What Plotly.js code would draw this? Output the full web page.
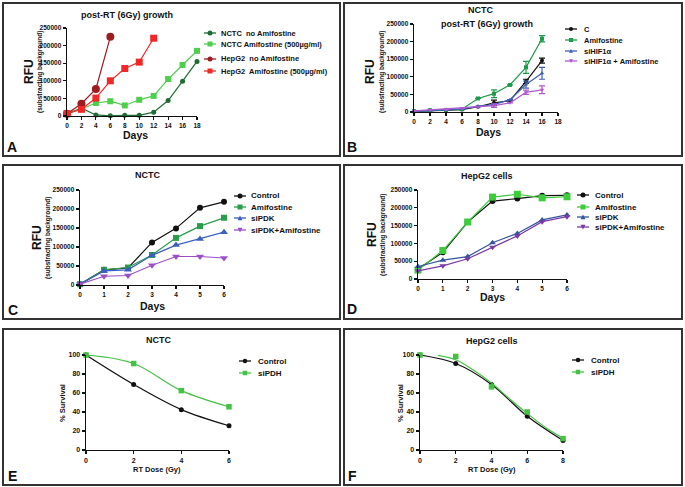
<!DOCTYPE html>
<html><head><meta charset="utf-8">
<script src="https://cdn.plot.ly/plotly-3.0.1.min.js"></script>
<style>html,body{margin:0;padding:0;background:#fff}#chart{width:685px;height:487px}</style>
</head><body><div id="chart"></div>
<script>
// ---------------- DATA ----------------
// Panel A
const daysA = [0,2,4,6,8,10,12,14,16,18];
const nctcNoAmifA = [6600,22000,3000,500,2000,2000,11000,44000,99000,155000];
const nctcAmifA   = [6600,20000,37000,42000,30000,46000,57000,105000,145000,185000];
const daysHepNoA  = [0,2,4,6];
const hepNoAmifA  = [6600,35000,77000,225000];
const daysHepAmA  = [0,2,4,6,8,10,12];
const hepAmifA    = [6600,19000,51000,100000,135000,153000,221000];
const namesA = ['NCTC  no Amifostine','NCTC Amifostine (500µg/ml)','HepG2  no Amifostine','HepG2  Amifostine (500µg/ml)'];

// Panel B
const daysB = [0,2,4,6,8,10,12,14,16];
const cB         = [2000,4000,5000,7000,15000,26000,32000,87000,146000];
const cErrB      = [null,null,null,null,null,8000,null,6000,7000];
const amifB      = [2000,5000,6000,8000,38500,52000,77000,127000,208000];
const amifErrB   = [null,null,null,null,null,11000,null,17000,9000];
const hifB       = [2000,5000,6000,9000,16000,21000,35000,78000,110000];
const hifErrB    = [null,null,null,null,null,null,null,10000,17000];
const hifAmifB   = [3000,6000,7000,10000,15000,18000,26000,56000,63000];
const hifAmifErrB= [null,null,null,null,null,5000,null,6000,11000];
const namesB = ['C','Amifostine','siHIF1α','siHIF1α + Amifostine'];

// Panel C
const daysC = [0,1,2,3,4,5,6];
const controlC  = [2000,40000,45000,112000,149000,203000,219000];
const amifC     = [2000,40000,46000,79000,124000,155000,177000];
const siPDKC    = [2000,37000,40000,78000,105000,121000,139000];
const siPDKAmC  = [2000,23000,25000,52000,75000,75000,71000];
const namesC = ['Control','Amifostine','siPDK','siPDK+Amifostine'];

// Panel D
const daysD = [0,1,2,3,4,5,6];
const controlD  = [28000,75000,160000,219000,226000,234000,235000];
const amifD     = [25000,80000,160000,230000,238000,228000,231000];
const siPDKD    = [35000,53000,63000,102000,128000,166000,180000];
const siPDKAmD  = [23000,37000,57000,89000,121000,161000,175000];
const namesD = ['Control','Amifostine','siPDK','siPDK+Amifostine'];

// Panel E
const doseE = [0,2,4,6];
const controlE = [100,69,42.5,25.5];
const siPDHE   = [100,91,62.5,45.5];
const namesEF = ['Control','siPDH'];

// Panel F
const doseF = [0,2,4,6,8];
const controlF = [100,91,69,35.5,10];
const siPDHF   = [100,98.5,66.5,40,12];
const fitDoseF = [1,2,3,4,5,6,7,8];
const siPDHFitF= [99.6,95,84,70.5,54,38.5,24,12.5];

// ---------------- HELPERS ----------------
const W = 685, H = 487;
const px = x => x / W, py = y => 1 - y / H;
const FONT = 'Liberation Sans, Arial, Helvetica, sans-serif';
const INK = '#111';

function xAx(l, r, range, dtick, anchor, fs) {
  return {domain:[px(l), px(r)], range, dtick, tick0:0, anchor, showgrid:false, zeroline:false,
    showline:true, linecolor:INK, linewidth:1.4, ticks:'outside', ticklen:3, tickwidth:1.2, tickcolor:INK,
    tickfont:{family:FONT, size:fs, color:INK, weight:'bold'}, fixedrange:true};
}
function yAx(t, b, range, dtick, anchor, fs) {
  return {domain:[py(b), py(t)], range, dtick, tick0:0, anchor, showgrid:false, zeroline:false,
    showline:true, linecolor:INK, linewidth:1.4, ticks:'outside', ticklen:3, tickwidth:1.2, tickcolor:INK,
    tickformat:'d', tickfont:{family:FONT, size:fs, color:INK, weight:'bold'}, fixedrange:true};
}

const traces = [];
function addSeries(xa, ya, x, y, color, symbol, size, err, shape) {
  const t = {x, y, xaxis:xa, yaxis:ya, type:'scatter', mode:'lines+markers', cliponaxis:false,
    line:{color, width:1.2, shape:shape || 'linear'}, marker:{color, symbol, size},
    showlegend:false, hoverinfo:'skip'};
  if (err) t.error_y = {type:'data', array:err, visible:true, color, thickness:1.2, width:3};
  traces.push(t);
}

const shapes = [], annotations = [];
function text(x, y, s, size, opts) {
  annotations.push(Object.assign({xref:'paper', yref:'paper', x:px(x), y:py(y), text:s, showarrow:false,
    xanchor:'center', yanchor:'middle', font:{family:FONT, size, color:INK}}, opts || {}));
}
function symbolShape(sym, cx, cy, s, color) {
  const h = s / 2;
  const base = {xref:'paper', yref:'paper', fillcolor:color, line:{width:0}};
  if (sym === 'circle') return Object.assign(base, {type:'circle', x0:px(cx-h), x1:px(cx+h), y0:py(cy+h), y1:py(cy-h)});
  if (sym === 'square') return Object.assign(base, {type:'rect', x0:px(cx-h), x1:px(cx+h), y0:py(cy+h), y1:py(cy-h)});
  if (sym === 'triangle-up') return Object.assign(base, {type:'path',
    path:`M ${px(cx-h)} ${py(cy+h*0.9)} L ${px(cx+h)} ${py(cy+h*0.9)} L ${px(cx)} ${py(cy-h)} Z`});
  return Object.assign(base, {type:'path',
    path:`M ${px(cx-h)} ${py(cy-h*0.9)} L ${px(cx+h)} ${py(cy-h*0.9)} L ${px(cx)} ${py(cy+h)} Z`});
}
function legend(mx, tx, ys, names, colors, syms, msize, fs) {
  names.forEach((n, i) => {
    shapes.push({type:'line', xref:'paper', yref:'paper', x0:px(mx-6), x1:px(mx+6), y0:py(ys[i]), y1:py(ys[i]),
      line:{color:colors[i], width:1.3}});
    shapes.push(symbolShape(syms[i], mx, ys[i], msize, colors[i]));
    text(tx, ys[i], '<b>' + n + '</b>', fs, {xanchor:'left'});
  });
}
function border(l, t, r, b) {
  shapes.push({type:'rect', xref:'paper', yref:'paper', x0:px(l), x1:px(r), y0:py(b), y1:py(t),
    line:{color:'#333', width:2}, fillcolor:'rgba(0,0,0,0)', layer:'below'});
}
function rfuTitle(x1, x2, yc) {
  text(x1, yc, '<b>RFU</b>', 12, {textangle:-90});
  text(x2, yc, '<b>(substracting background)</b>', 6.5, {textangle:-90});
}

// ---------------- PANEL A ----------------
const colA = ['#1f6b35','#4dce4d','#9e1b20','#f02828'];
const symA = ['circle','square','circle','square'];
addSeries('x','y', daysA, nctcNoAmifA, colA[0], 'circle', 5);
addSeries('x','y', daysA, nctcAmifA, colA[1], 'square', 6);
addSeries('x','y', daysHepNoA, hepNoAmifA, colA[2], 'circle', 8);
addSeries('x','y', daysHepAmA, hepAmifA, colA[3], 'square', 7);

// ---------------- PANEL B ----------------
const colB = [INK,'#1e9a4c','#4060b8','#b05ad0'];
const symB = ['circle','square','triangle-up','triangle-down'];
addSeries('x2','y2', daysB, cB, colB[0], 'circle', 4, cErrB);
addSeries('x2','y2', daysB, amifB, colB[1], 'square', 4, amifErrB);
addSeries('x2','y2', daysB, hifB, colB[2], 'triangle-up', 4, hifErrB);
addSeries('x2','y2', daysB, hifAmifB, colB[3], 'triangle-down', 4, hifAmifErrB);

// ---------------- PANEL C ----------------
const colC = [INK,'#2a9d4a','#3b5fc0','#9b50c8'];
const symC = ['circle','square','triangle-up','triangle-down'];
addSeries('x3','y3', daysC, controlC, colC[0], 'circle', 6);
addSeries('x3','y3', daysC, amifC, colC[1], 'square', 6);
addSeries('x3','y3', daysC, siPDKC, colC[2], 'triangle-up', 7);
addSeries('x3','y3', daysC, siPDKAmC, colC[3], 'triangle-down', 7);

// ---------------- PANEL D ----------------
const colD = [INK,'#3ccc3c','#34549e','#7b3aa8'];
addSeries('x4','y4', daysD, controlD, colD[0], 'circle', 6);
addSeries('x4','y4', daysD, amifD, colD[1], 'square', 7);
addSeries('x4','y4', daysD, siPDKD, colD[2], 'triangle-up', 6);
addSeries('x4','y4', daysD, siPDKAmD, colD[3], 'triangle-down', 6);

// ---------------- PANEL E ----------------
const colEF = [INK,'#44c244'];
const symEF = ['circle','square'];
addSeries('x5','y5', doseE, controlE, colEF[0], 'circle', 5, null, 'spline');
addSeries('x5','y5', doseE, siPDHE, colEF[1], 'square', 5.5, null, 'spline');

// ---------------- PANEL F ----------------
addSeries('x6','y6', doseF, controlF, colEF[0], 'circle', 5, null, 'spline');
traces.push({x:fitDoseF, y:siPDHFitF, xaxis:'x6', yaxis:'y6', type:'scatter', mode:'lines', cliponaxis:false,
  line:{color:colEF[1], width:1.2, shape:'spline'}, showlegend:false, hoverinfo:'skip'});
traces.push({x:doseF, y:siPDHF, xaxis:'x6', yaxis:'y6', type:'scatter', mode:'markers', cliponaxis:false,
  marker:{color:colEF[1], symbol:'square', size:5.5}, showlegend:false, hoverinfo:'skip'});

// ---------------- DECORATION ----------------
border(3, 3, 340, 156);
border(344, 3, 682, 156);
border(3, 165, 340, 319);
border(344, 165, 682, 319);
border(3, 329, 340, 485);
border(344, 329, 682, 485);

// Panel A texts
text(127, 15, '<b>post-RT (6Gy) growth</b>', 9);
rfuTitle(29, 40, 72);
text(135, 135, '<b>Days</b>', 10.5);
text(12, 147, '<b>A</b>', 14);
legend(210, 219, [33,44,59,71], namesA, colA, symA, 5, 7.5);

// Panel B texts
text(480, 10, '<b>NCTC</b>', 9);
text(487, 24, '<b>post-RT (6Gy) growth</b>', 9);
rfuTitle(370, 382, 72);
text(488, 132, '<b>Days</b>', 10.5);
text(352, 147, '<b>B</b>', 14);
legend(571, 582, [29,40,51,61], namesB, colB, symB, 4, 7.5);

// Panel C texts
text(147, 175, '<b>NCTC</b>', 9);
rfuTitle(37, 48, 238);
text(152, 306, '<b>Days</b>', 10.5);
text(13, 310, '<b>C</b>', 14);
legend(240, 249, [196,207,218,230], namesC, colC, symC, 5, 8);

// Panel D texts
text(487, 176, '<b>HepG2 cells</b>', 9);
rfuTitle(372, 383, 235);
text(492, 297, '<b>Days</b>', 10.5);
text(352, 309, '<b>D</b>', 14);
legend(583, 593, [195,207,217,227], namesD, colD, symC, 5, 8);

// Panel E texts
text(158, 340, '<b>NCTC</b>', 9);
text(62, 403, '<b>% Survival</b>', 7.5, {textangle:-90});
text(157, 469, '<b>RT Dose (Gy)</b>', 7.5);
text(12, 476, '<b>E</b>', 14);
legend(245, 256, [361,373], namesEF, colEF, symEF, 4.5, 8);

// Panel F texts
text(492, 341, '<b>HepG2 cells</b>', 9);
text(400, 403, '<b>% Survival</b>', 7.5, {textangle:-90});
text(492, 469, '<b>RT Dose (Gy)</b>', 7.5);
text(352, 476, '<b>F</b>', 14);
legend(578, 589, [360,372], namesEF, colEF, symEF, 4.5, 8);

const layout = {
  width:W, height:H, margin:{l:0, r:0, t:0, b:0},
  paper_bgcolor:'#fff', plot_bgcolor:'rgba(0,0,0,0)', showlegend:false,
  font:{family:FONT, color:INK},
  xaxis:  xAx(67, 197, [0,18], 2, 'y', 6.5),
  yaxis:  yAx(28, 116, [0,250000], 50000, 'x', 6.5),
  xaxis2: xAx(414, 558, [0,18], 2, 'y2', 6.5),
  yaxis2: yAx(24, 112, [0,250000], 50000, 'x2', 6.5),
  xaxis3: xAx(80, 224, [0,6], 1, 'y3', 6.5),
  yaxis3: yAx(190, 285, [0,250000], 50000, 'x3', 6.5),
  xaxis4: xAx(418, 567, [0,6], 1, 'y4', 6.5),
  yaxis4: yAx(190, 279, [0,250000], 50000, 'x4', 6.5),
  xaxis5: xAx(86, 229, [0,6], 2, 'y5', 7),
  yaxis5: yAx(355, 450, [0,100], 20, 'x5', 7),
  xaxis6: xAx(420, 563, [0,8], 2, 'y6', 7),
  yaxis6: yAx(355, 450, [0,100], 20, 'x6', 7),
  shapes, annotations
};

Plotly.newPlot('chart', traces, layout, {staticPlot:true, displayModeBar:false});
</script></body></html>
